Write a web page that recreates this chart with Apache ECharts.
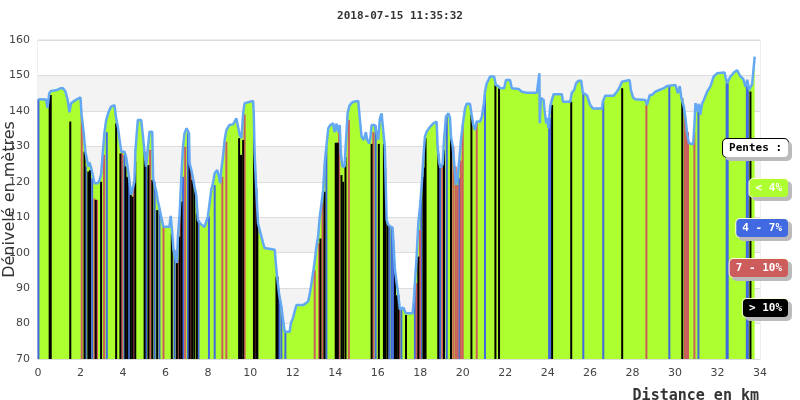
<!DOCTYPE html>
<html><head><meta charset="UTF-8">
<title>Profil</title>
<script src="https://cdn.jsdelivr.net/npm/echarts@6/dist/echarts.min.js"></script>
<style>html,body{margin:0;padding:0;background:#fff}</style>
</head>
<body>
<div id="g1" style="width:800px;height:400px;"></div>
<script type="text/javascript">
// profil : [distance km, altitude m]
var profile = [
 [0.02,143.3],[0.38,143.2],[0.45,140.8],[0.53,145],[0.61,145.6],[0.85,145.8],[1.08,146.4],[1.18,146.4],[1.29,145.5],[1.4,143],
 [1.48,139.6],[1.56,142.2],[1.79,143.1],[2.0,143.8],[2.05,139],[2.15,134],[2.23,128.5],[2.3,126.5],[2.36,124.3],[2.42,125.5],
 [2.5,124],[2.58,123.5],[2.66,119.6],[2.82,119.6],[2.89,120.3],[2.97,122],[3.05,128],[3.13,134],[3.21,137.4],[3.33,139.8],
 [3.44,141.2],[3.6,141.6],[3.68,137.9],[3.76,135.5],[3.83,132.3],[3.92,128.5],[4.07,128.5],[4.15,127],[4.27,121.9],[4.39,116.3],
 [4.47,115.8],[4.54,120],[4.59,129],[4.7,137.4],[4.86,137.4],[4.94,133],[5.01,128.5],[5.09,124.3],[5.17,124.5],[5.25,134.1],
 [5.38,134.1],[5.42,121],[5.57,117.2],[5.65,114.4],[5.72,112.5],[5.8,110.2],[5.9,107.3],[6.19,107.3],[6.25,110.4],[6.32,105.5],
 [6.38,100.8],[6.54,97.1],[6.59,104.5],[6.67,111.1],[6.75,121.4],[6.83,129.9],[6.9,133.7],[7.0,135.1],[7.11,133.7],[7.14,125.2],
 [7.22,123.3],[7.3,121],[7.37,118.6],[7.45,116.3],[7.53,109.2],[7.64,108.2],[7.84,107.2],[7.92,107],[8.0,110.2],[8.08,113.9],
 [8.16,117.7],[8.24,119.6],[8.32,122.4],[8.44,123.3],[8.52,121.4],[8.58,119.6],[8.63,123.3],[8.71,127],[8.79,131.8],[8.87,134.6],
 [9.01,136],[9.18,136.2],[9.26,137],[9.34,137.9],[9.42,137.6],[9.5,133.2],[9.58,132.3],[9.66,139.3],[9.73,142.2],[9.81,142.6],
 [10.13,142.8],[10.16,139.3],[10.2,128],[10.28,117.7],[10.36,108.3],[10.44,106.4],[10.6,102.7],[10.67,101.3],[11.15,100.8],[11.2,97],
 [11.26,93.2],[11.35,88.5],[11.46,84.8],[11.54,81],[11.62,77.7],[11.85,77.7],[11.91,80.1],[12.01,81.6],[12.09,83.5],[12.17,85.2],
 [12.49,85.2],[12.56,85.7],[12.72,86.2],[12.8,88.5],[12.88,91.4],[12.96,94.6],[13.03,97.5],[13.11,101.7],[13.19,104.5],[13.27,110.2],
 [13.35,113.9],[13.43,117.7],[13.5,125.2],[13.58,129.9],[13.67,135.1],[13.77,136],[13.9,136.5],[13.96,134],[14.06,136.4],[14.14,134],
 [14.21,136],[14.26,128],[14.34,124.3],[14.44,124.3],[14.49,130],[14.58,139.3],[14.66,141.4],[14.76,142.2],[14.86,142.6],[15.08,142.8],
 [15.16,137.4],[15.24,132.7],[15.34,131.8],[15.44,134],[15.5,131.8],[15.6,130.8],[15.66,133],[15.71,136],[15.86,136],[15.94,134],
 [16.02,131.8],[16.1,137.9],[16.18,139.3],[16.26,139.3],[16.33,129.9],[16.42,109.2],[16.5,107.8],[16.6,107.4],[16.7,107],[16.73,103.6],
 [16.81,95.1],[16.89,91.4],[16.97,88],[17.04,84],[17.2,84.5],[17.23,84.9],[17.32,82.9],[17.64,82.9],[17.7,86.6],[17.75,91.4],
 [17.83,98.9],[17.91,108.4],[17.99,113],[18.07,119.1],[18.15,127],[18.22,132.7],[18.3,134.1],[18.38,134.3],[18.46,135.5],[18.62,136.5],
 [18.69,137],[18.77,137],[18.82,129.5],[18.9,125.2],[18.96,124],[19.06,125],[19.12,131.8],[19.21,138.4],[19.33,139.3],[19.4,138],
 [19.45,132.7],[19.53,129.9],[19.61,124.3],[19.68,119.1],[19.76,121],[19.84,126.2],[19.92,131.8],[20.0,136],[20.11,140.7],[20.19,142],
 [20.34,142],[20.42,138.9],[20.5,136],[20.58,134.6],[20.66,137],[20.82,137],[20.9,138.4],[21.0,142.2],[21.05,145.4],[21.13,147.8],
 [21.21,148.7],[21.29,149.7],[21.48,149.7],[21.56,147.3],[21.68,147],[21.76,146.4],[21.95,146.4],[22.04,148.7],[22.23,148.7],[22.31,146.4],
 [22.63,146.2],[22.78,145.4],[23.02,145.1],[23.49,145.1],[23.57,145.4],[23.61,150.6],[23.63,136.5],[23.68,143.6],[23.81,143.1],[23.84,141],
 [23.93,136.5],[24.0,138],[24.04,135.1],[24.12,141.2],[24.2,143.1],[24.28,144.7],[24.67,144.7],[24.72,142.6],[25.06,142.6],[25.14,145.1],
 [25.25,145.9],[25.34,147.8],[25.46,148.5],[25.58,148.5],[25.66,145.1],[25.85,144.4],[25.93,143],[26.0,141.7],[26.13,140.7],[26.56,140.7],
 [26.6,142.6],[26.71,144.3],[27.11,144.3],[27.23,145.2],[27.34,146.1],[27.5,148.2],[27.58,148.7],[27.86,148.7],[27.92,145.9],[28.02,143.8],
 [28.13,143.3],[28.6,143.1],[28.68,141.7],[28.81,144.5],[28.92,144.5],[29.07,145.4],[29.47,146.4],[29.62,147],[30.02,147.3],[30.09,147.8],
 [30.13,145],[30.22,147],[30.3,143.6],[30.41,141.2],[30.49,138],[30.57,133.5],[30.65,130.9],[30.85,130.6],[30.91,136],[30.96,142.2],
 [31.04,139.8],[31.12,142],[31.19,138.9],[31.27,142],[31.35,143],[31.51,145.4],[31.67,147],[31.82,149.7],[31.98,150.6],[32.33,150.8],
 [32.37,149.7],[32.45,147.8],[32.61,149.7],[32.77,150.8],[32.92,151.5],[33.0,151],[33.08,149.7],[33.21,149],[33.32,146.8],[33.4,148.8],
 [33.48,145.9],[33.55,145.5],[33.63,147.5],[33.71,148],[33.75,155.3]
];

// pentes 4 - 7 %
var blueBars = [
 [0.02,143.3],[2.25,124.3],[2.55,121],[3.24,134],[4.07,127.6],[4.28,121.4],[5.09,127],[5.49,120],[5.72,112.5],[6.43,100.8],
 [6.83,121.4],[7.06,133.7],[7.56,109.2],[8.05,110.2],[8.32,119.1],[11.35,88.5],[11.46,84.8],[11.65,77.7],[13.58,129.9],[15.9,136],
 [16.54,107.8],[16.65,107.4],[16.73,103.6],[17.11,84],[17.75,91.4],[18.05,116],[18.93,124],[19.25,138.4],[19.84,121],[21.05,145.4],
 [24.07,135],[24.11,138],[25.68,145],[26.62,142.6],[29.73,147],[31.1,139.8],[32.43,147.8],[32.48,147.8],[33.38,148],[33.43,148]
];
// pentes 7 - 10 %
var redBars = [
 [2.06,138.9],[2.66,115.3],[2.78,114.9],[3.11,127.6],[3.96,128],[4.51,120],[5.28,129],[5.91,107.3],[6.59,98],[6.71,111],
 [6.93,129.9],[7.2,123.3],[8.68,121.4],[8.87,131.3],[9.73,139],[10.24,122],[13.03,95.1],[13.24,102.6],[13.4,114],[14.18,134],
 [14.64,137.4],[15.79,134],[17.01,84.5],[17.83,91.4],[17.99,106.4],[19.04,125],[19.56,129.9],[19.67,124.3],[19.75,119.1],[19.91,126],
 [20.0,136],[20.66,137],[28.65,141.7],[30.46,139.3],[30.53,133.5],[30.61,134],[30.91,134]
];
// pentes > 10 %
var blackBars = [
 [0.55,144.5],[0.6,144.5],[1.52,137],[2.19,128.5],[2.37,122.9],[2.45,123.3],[2.72,114.9],[2.97,120],[3.68,136.5],[3.88,128],
 [4.12,124.3],[4.2,121.4],[4.37,116.3],[4.45,115.8],[4.58,125.7],[5.02,128.5],[5.2,124.7],[5.38,120.5],[5.61,112],[6.3,105.5],
 [6.54,97.1],[6.67,104.5],[6.76,114.4],[7.14,125.2],[7.26,120.5],[7.36,118.6],[7.48,111.1],[9.47,132.3],[9.56,127.6],[9.66,131.8],
 [10.17,133.2],[10.28,118.2],[10.33,108.3],[11.23,93.2],[11.28,93.2],[13.3,104],[13.49,117.2],[14.02,131],[14.07,131],[14.12,131],
 [14.29,121.9],[14.37,120],[14.48,127],[15.71,130.7],[16.05,130.7],[16.29,130.7],[16.35,123.8],[16.45,108.3],[16.81,95.1],[16.89,88],
 [16.97,88],[17.33,82.4],[17.91,98.9],[18.15,121.4],[18.2,124],[18.25,132.3],[18.85,128],[19.12,129],[19.45,133.7],[20.41,138.9],
 [21.54,147.3],[21.71,146.4],[24.21,141.7],[25.11,142.6],[27.51,146.4],[30.34,143.6],[33.55,145.5]
];

var legendItems = ['Pentes :', '< 4%', '4 - 7%', '7 - 10%', '> 10%'];
var legendColors = ['#ffffff', '#adff2f', '#4169e1', '#cd5c5c', '#000000'];
var legendText = ['#000000', '#ffffff', '#ffffff', '#ffffff', '#ffffff'];

var mono = '"DejaVu Sans Mono", monospace';

// barres verticales (pente) : une barre fine par point, du bas de l'axe jusqu'a l'altitude
function barSerie(name, data, color) {
    return {
        name: name, type: 'bar', data: data, z: 3,
        barWidth: 2, barGap: '-100%', barMinHeight: 0,
        itemStyle: {color: color, opacity: 1}, silent: true
    };
}

var graphics = [
    {type: 'text', x: 759, y: 389, z: 100,
     style: {text: 'Distance en km', font: 'bold 15px ' + mono, fill: '#333', align: 'right', verticalAlign: 'top'}}
];
for (var i = 0; i < legendItems.length; i++) {
    graphics.push({
        type: 'text', x: 788, y: 139 + i * 40, z: 100,
        style: {
            text: legendItems[i], font: 'bold 11px ' + mono, fill: legendText[i],
            align: 'right', verticalAlign: 'top',
            backgroundColor: legendColors[i],
            borderColor: i == 0 ? '#000' : '#ffffe0', borderWidth: 1, borderRadius: 4,
            padding: [4, 6, 3, 6],
            shadowColor: '#bbb', shadowOffsetX: 3, shadowOffsetY: 3
        }
    });
}

var option = {
    animation: false,
    title: {
        text: '2018-07-15 11:35:32', left: 'center', top: 6,
        textStyle: {fontFamily: mono, fontSize: 11, fontWeight: 'bold', color: '#333'}
    },
    grid: {left: 38, right: 40, top: 40, bottom: 41, show: true, borderColor: '#ddd', borderWidth: 1,
           containLabel: false, outerBoundsMode: 'none'},
    xAxis: {
        type: 'value', min: 0, max: 34, interval: 2,
        axisLine: {show: true, onZero: false, lineStyle: {color: '#ddd'}},
        axisTick: {show: false},
        splitLine: {show: false},
        axisLabel: {color: '#444', fontSize: 11, margin: 9, fontFamily: 'DejaVu Sans'}
    },
    yAxis: {
        type: 'value', min: 70, max: 160, interval: 10,
        name: 'Dénivelé en mètres', nameLocation: 'middle', nameGap: 20, nameRotate: 90,
        nameMoveOverlap: false,
        nameTextStyle: {fontSize: 16, color: '#333', fontFamily: 'DejaVu Sans'},
        axisLine: {show: false}, axisTick: {show: false},
        splitLine: {lineStyle: {color: '#ddd'}},
        splitArea: {show: true, areaStyle: {color: ['#ffffff', '#f3f3f3']}},
        axisLabel: {color: '#444', fontSize: 11, margin: 8, fontFamily: 'DejaVu Sans'}
    },
    graphic: graphics,
    series: [
        {
            name: 'sol', type: 'line', data: profile, showSymbol: false, silent: true, z: 1,
            lineStyle: {width: 0}, areaStyle: {color: '#adff2f', opacity: 1, origin: 'start'}
        },
        barSerie('4 - 7%', blueBars, '#4169e1'),
        barSerie('7 - 10%', redBars, '#cd5c5c'),
        barSerie('> 10%', blackBars, '#000000'),
        {
            name: 'profil', type: 'line', data: profile, showSymbol: false, silent: true, z: 4,
            lineStyle: {width: 2.5, color: '#62a8f2'}
        }
    ]
};

var myChart = echarts.init(document.getElementById('g1'));
myChart.setOption(option);
</script>
</body></html>
